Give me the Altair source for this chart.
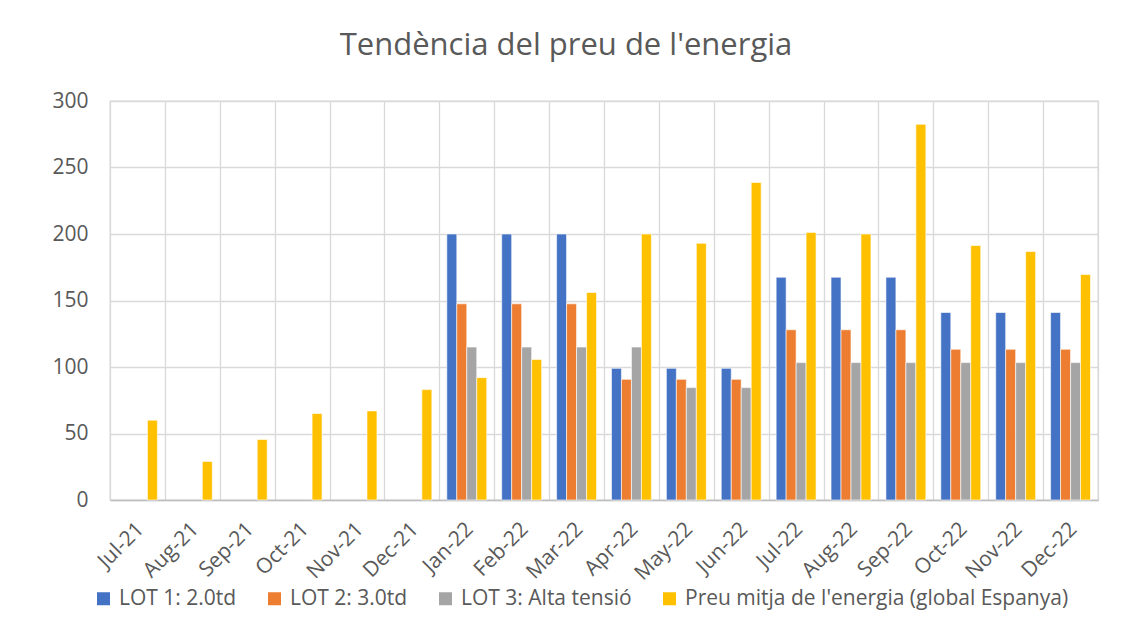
import altair as alt
import pandas as pd

months = ["Jul-21", "Aug-21", "Sep-21", "Oct-21", "Nov-21", "Dec-21",
          "Jan-22", "Feb-22", "Mar-22", "Apr-22", "May-22", "Jun-22",
          "Jul-22", "Aug-22", "Sep-22", "Oct-22", "Nov-22", "Dec-22"]

series_names = ["LOT 1: 2.0td", "LOT 2: 3.0td", "LOT 3: Alta tensió",
                "Preu mitja de l'energia (global Espanya)"]
series_colors = ["#4472C4", "#ED7D31", "#A5A5A5", "#FFC000"]

lot1 = [None, None, None, None, None, None,
        200, 200, 200, 99, 99, 99, 167.5, 167.5, 167.5, 141, 141, 141]
lot2 = [None, None, None, None, None, None,
        147.5, 147.5, 147.5, 90.7, 90.7, 90.7, 128, 128, 128, 113.3, 113.3, 113.3]
lot3 = [None, None, None, None, None, None,
        115, 115, 115, 115, 84.5, 84.5, 103.3, 103.3, 103.3, 103.3, 103.3, 103.3]
preu = [60, 29, 45.5, 65, 67, 83,
        92, 105.7, 156, 200, 193, 238.7, 201.2, 200, 282.5, 191.3, 186.8, 169.5]

rows = []
for name, vals in zip(series_names, [lot1, lot2, lot3, preu]):
    for m, v in zip(months, vals):
        if v is not None:
            rows.append({"mes": m, "serie": name, "valor": v})
df = pd.DataFrame(rows)

FONT = "Open Sans"
TXT = "#595959"
GRID = "#D9D9D9"

chart = alt.Chart(df).mark_bar(stroke="white", strokeWidth=0.6).encode(
    x=alt.X("mes:N", sort=months, title=None,
            scale=alt.Scale(paddingInner=0, paddingOuter=0),
            axis=alt.Axis(labelAngle=-45, grid=True, gridColor=GRID, gridWidth=1.3,
                          tickBand="extent", ticks=False, domainColor="#BFBFBF",
                          domainWidth=1.3, labelFont=FONT, labelFontSize=21,
                          labelColor=TXT, labelPadding=18, labelOffset=-5)),
    xOffset=alt.XOffset("serie:N", sort=series_names,
                        scale=alt.Scale(paddingOuter=0.75, paddingInner=0)),
    y=alt.Y("valor:Q", title=None,
            scale=alt.Scale(domain=[0, 300]),
            axis=alt.Axis(values=[0, 50, 100, 150, 200, 250, 300], grid=True,
                          gridColor=GRID, gridWidth=1.3, domain=False, ticks=False,
                          labelFont=FONT, labelFontSize=21, labelColor=TXT,
                          labelPadding=22)),
    color=alt.Color("serie:N", sort=series_names,
                    scale=alt.Scale(domain=series_names, range=series_colors),
                    legend=alt.Legend(title=None, orient="none", direction="horizontal",
                                      legendX=-17, legendY=487,
                                      symbolType="square", symbolSize=169,
                                      symbolStrokeWidth=0, labelFont=FONT,
                                      labelFontSize=21, labelColor=TXT, labelLimit=0,
                                      labelOffset=5, columnPadding=27)),
).properties(
    width=988,
    height=399,
    autosize=alt.AutoSizeParams(type="none"),
    padding={"left": 102, "top": 93, "right": 28, "bottom": 118},
    title=alt.TitleParams("Tendència del preu de l'energia", font=FONT, fontSize=31,
                          fontWeight="normal", color=TXT, anchor="middle",
                          dx=-38, offset=28),
).configure_view(stroke=GRID, strokeWidth=1.3)

chart.save("out.html", embed_options={"renderer": "svg", "actions": False})
